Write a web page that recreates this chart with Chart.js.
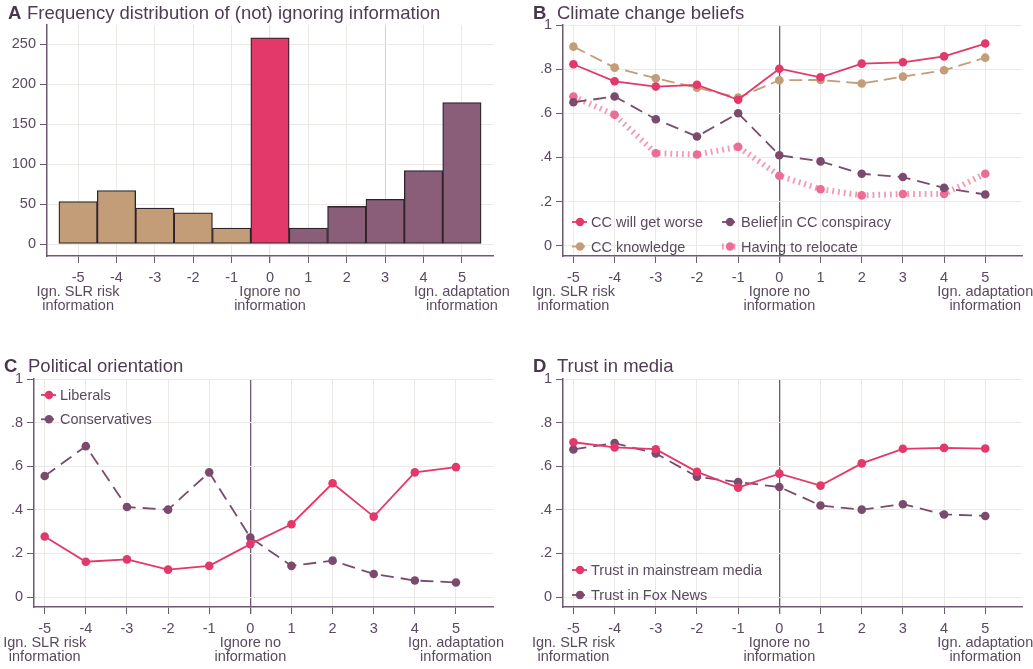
<!DOCTYPE html>
<html>
<head>
<meta charset="utf-8">
<script src="https://cdn.jsdelivr.net/npm/chart.js@4.4.1/dist/chart.umd.min.js"></script>
<style>
  body { margin: 0; background: #fff; width: 1033px; height: 669px; overflow: hidden; position: relative; font-family: "Liberation Sans", Arial, sans-serif; }
  .panel { position: absolute; }
  .title { position: absolute; font-size: 18.5px; line-height: 1; color: #4e3d52; white-space: nowrap; }
  .title b { display: inline-block; color: #46374a; }
</style>
</head>
<body>
<div class="panel" style="left:0;top:0"><canvas id="chartA" width="516" height="320"></canvas></div>
<div class="panel" style="left:516px;top:0"><canvas id="chartB" width="517" height="320"></canvas></div>
<div class="panel" style="left:0;top:335px"><canvas id="chartC" width="516" height="334"></canvas></div>
<div class="panel" style="left:516px;top:335px"><canvas id="chartD" width="517" height="334"></canvas></div>

<div class="title" style="left:8px;top:4px"><b style="width:19px">A</b>Frequency distribution of (not) ignoring information</div>
<div class="title" style="left:533px;top:4px"><b style="width:24px">B</b>Climate change beliefs</div>
<div class="title" style="left:4px;top:357px"><b style="width:24px">C</b>Political orientation</div>
<div class="title" style="left:533px;top:357px"><b style="width:24px">D</b>Trust in media</div>

<script>
// ignoring score, -5 (ignore SLR risk info) .. 5 (ignore adaptation info)
const xValues = [-5, -4, -3, -2, -1, 0, 1, 2, 3, 4, 5];
const edgeLabels = {
  "-5": ["Ign. SLR risk", "information"],
  "0": ["Ignore no", "information"],
  "5": ["Ign. adaptation", "information"],
};

// A: frequencies
const frequency = [53, 67, 45, 39, 20, 258, 20, 47, 56, 92, 177];
const freqTicks = [0, 50, 100, 150, 200, 250];

// B: climate change beliefs (shares)
const ccWorse = [0.822, 0.745, 0.721, 0.729, 0.661, 0.802, 0.763, 0.825, 0.831, 0.858, 0.916];
const ccKnowledge = [0.902, 0.807, 0.759, 0.716, 0.671, 0.750, 0.751, 0.735, 0.766, 0.795, 0.852];
const ccConspiracy = [0.650, 0.676, 0.573, 0.495, 0.600, 0.410, 0.382, 0.326, 0.311, 0.262, 0.232];
const relocate = [0.676, 0.593, 0.419, 0.413, 0.448, 0.317, 0.256, 0.228, 0.234, 0.234, 0.326];

// C: political orientation
const liberals = [0.278, 0.162, 0.173, 0.126, 0.143, 0.243, 0.334, 0.522, 0.369, 0.572, 0.596];
const conservatives = [0.555, 0.692, 0.413, 0.401, 0.572, 0.273, 0.143, 0.167, 0.106, 0.076, 0.067];

// D: trust in media
const trustMainstream = [0.710, 0.686, 0.678, 0.574, 0.502, 0.566, 0.511, 0.613, 0.680, 0.684, 0.681];
const trustFox = [0.677, 0.706, 0.659, 0.552, 0.527, 0.505, 0.420, 0.401, 0.426, 0.379, 0.372];

const shareTicks = [0, 0.2, 0.4, 0.6, 0.8, 1];

const pink = "#e2386a";
const tan = "#c29d78";
const plum = "#7a4b6c";
const plumBar = "#8a5d78";
const relocatePink = "rgba(238, 98, 140, 0.65)";
const textColor = "#5a4a5e";
const axisColor = "#6d5a70";
const gridColor = "#ebe8e5";

Chart.defaults.font.family = '"Liberation Sans", Arial, sans-serif';
Chart.defaults.color = textColor;
Chart.defaults.animation = false;

// legend drawn inside the plot area
const insideLegend = {
  id: "insideLegend",
  afterDraw(chart, args, opts) {
    if (!opts.items) return;
    const ctx = chart.ctx;
    opts.items.forEach((it, i) => {
      const ds = chart.data.datasets[i];
      ctx.save();
      ctx.strokeStyle = ds.borderColor;
      ctx.lineWidth = ds.borderWidth;
      ctx.setLineDash(ds.legendDash || []);
      ctx.beginPath();
      ctx.moveTo(it.x - 8, it.y);
      ctx.lineTo(it.x + 7, it.y);
      ctx.stroke();
      ctx.setLineDash([]);
      ctx.fillStyle = ds.pointBackgroundColor;
      ctx.beginPath();
      ctx.arc(it.x, it.y, 4.2, 0, Math.PI * 2);
      ctx.fill();
      ctx.fillStyle = textColor;
      ctx.font = '14.5px "Liberation Sans", Arial, sans-serif';
      ctx.textBaseline = "middle";
      ctx.fillText(ds.label, it.x + 11, it.y + 1);
      ctx.restore();
    });
  },
};

function xScale(min, max, gridFn) {
  return {
    type: "linear",
    min: min,
    max: max,
    offset: false,
    afterBuildTicks: (s) => { s.ticks = xValues.map((v) => ({ value: v })); },
    afterFit: (s) => { s.height = 62; s.paddingLeft = 0; s.paddingRight = 0; },
    ticks: {
      autoSkip: false,
      maxRotation: 0,
      minRotation: 0,
      padding: 8,
      color: textColor,
      font: { size: 14.5, lineHeight: 0.96 },
      callback: (v) => (edgeLabels[v] ? [String(v)].concat(edgeLabels[v]) : String(v)),
    },
    grid: {
      offset: false,
      color: gridFn || gridColor,
      lineWidth: (c) => (c.tick && c.tick.value === 0 && gridFn ? 1.3 : 1),
      tickLength: 7,
      tickColor: axisColor,
    },
    border: { color: axisColor, width: 1.5 },
  };
}

function yScale(min, max, ticks, fmt, width) {
  return {
    min: min,
    max: max,
    afterBuildTicks: (s) => { s.ticks = ticks.map((v) => ({ value: v })); },
    afterFit: (s) => { s.width = width; s.paddingTop = 0; s.paddingBottom = 0; },
    ticks: { color: textColor, font: { size: 14.5 }, padding: 4, callback: fmt },
    grid: { color: gridColor, tickLength: 7, tickColor: axisColor },
    border: { color: axisColor, width: 1.5 },
  };
}

const shareFmt = (v) => (v === 0 ? "0" : v === 1 ? "1" : v.toFixed(1).replace(/^0/, ""));
const zeroLine = (c) => (c.tick && c.tick.value === 0 ? axisColor : gridColor);

function lineSet(label, values, color, dash, extra) {
  return Object.assign({
    type: "line",
    label: label,
    data: xValues.map((x, i) => ({ x: x, y: values[i] })),
    borderColor: color,
    borderWidth: 1.8,
    borderDash: dash,
    legendDash: dash,
    pointRadius: 4.3,
    pointBorderWidth: 0,
    pointBackgroundColor: color,
    fill: false,
    tension: 0,
  }, extra || {});
}

// A: histogram
new Chart(document.getElementById("chartA"), {
  type: "bar",
  data: {
    datasets: [{
      data: xValues.map((x, i) => ({ x: x, y: frequency[i] })),
      backgroundColor: xValues.map((x) => (x < 0 ? tan : x === 0 ? pink : plumBar)),
      borderColor: "#2d2429",
      borderWidth: 1.3,
      borderSkipped: false,
      barPercentage: 1,
      categoryPercentage: 1,
    }],
  },
  options: {
    responsive: false,
    layout: { padding: { left: 0, top: 25, right: 23, bottom: 2 } },
    plugins: { legend: { display: false }, tooltip: { enabled: false } },
    scales: {
      x: xScale(-5.81, 5.81, (c) => (c.tick && c.tick.value === 3 ? "#d3cfcb" : gridColor)),
      y: yScale(-15, 274, freqTicks, (v) => String(v), 47),
    },
  },
});

// B: climate change beliefs
new Chart(document.getElementById("chartB"), {
  type: "line",
  data: {
    datasets: [
      lineSet("CC will get worse", ccWorse, pink, []),
      lineSet("CC knowledge", ccKnowledge, tan, [13, 6]),
      lineSet("Belief in CC conspiracy", ccConspiracy, plum, [13, 7]),
      lineSet("Having to relocate", relocate, relocatePink, [1.8, 4], {
        borderWidth: 6, pointBackgroundColor: "#ec6c93", legendDash: [1.8, 4],
      }),
    ],
  },
  options: {
    responsive: false,
    layout: { padding: { left: 0, top: 25, right: 11, bottom: 2 } },
    plugins: {
      legend: { display: false },
      tooltip: { enabled: false },
      insideLegend: { items: [{ x: 64, y: 222 }, { x: 64, y: 246.5 }, { x: 214, y: 222 }, { x: 214, y: 246.5 }] },
    },
    scales: {
      x: xScale(-5.253, 5.892, zeroLine),
      y: yScale(-0.0466, 1, shareTicks, shareFmt, 47),
    },
  },
  plugins: [insideLegend],
});

// C: political orientation
new Chart(document.getElementById("chartC"), {
  type: "line",
  data: {
    datasets: [
      lineSet("Liberals", liberals, pink, []),
      lineSet("Conservatives", conservatives, plum, [13, 7]),
    ],
  },
  options: {
    responsive: false,
    layout: { padding: { left: 0, top: 44, right: 23, bottom: 0 } },
    plugins: {
      legend: { display: false },
      tooltip: { enabled: false },
      insideLegend: { items: [{ x: 49, y: 60 }, { x: 49, y: 84.3 }] },
    },
    scales: {
      x: xScale(-5.26, 5.90, zeroLine),
      y: yScale(-0.0455, 1, shareTicks, shareFmt, 34),
    },
  },
  plugins: [insideLegend],
});

// D: trust in media
new Chart(document.getElementById("chartD"), {
  type: "line",
  data: {
    datasets: [
      lineSet("Trust in mainstream media", trustMainstream, pink, []),
      lineSet("Trust in Fox News", trustFox, plum, [13, 7]),
    ],
  },
  options: {
    responsive: false,
    layout: { padding: { left: 0, top: 44, right: 11, bottom: 0 } },
    plugins: {
      legend: { display: false },
      tooltip: { enabled: false },
      insideLegend: { items: [{ x: 64, y: 235 }, { x: 64, y: 260 }] },
    },
    scales: {
      x: xScale(-5.253, 5.892, zeroLine),
      y: yScale(-0.0455, 1, shareTicks, shareFmt, 47),
    },
  },
  plugins: [insideLegend],
});
</script>
</body>
</html>
